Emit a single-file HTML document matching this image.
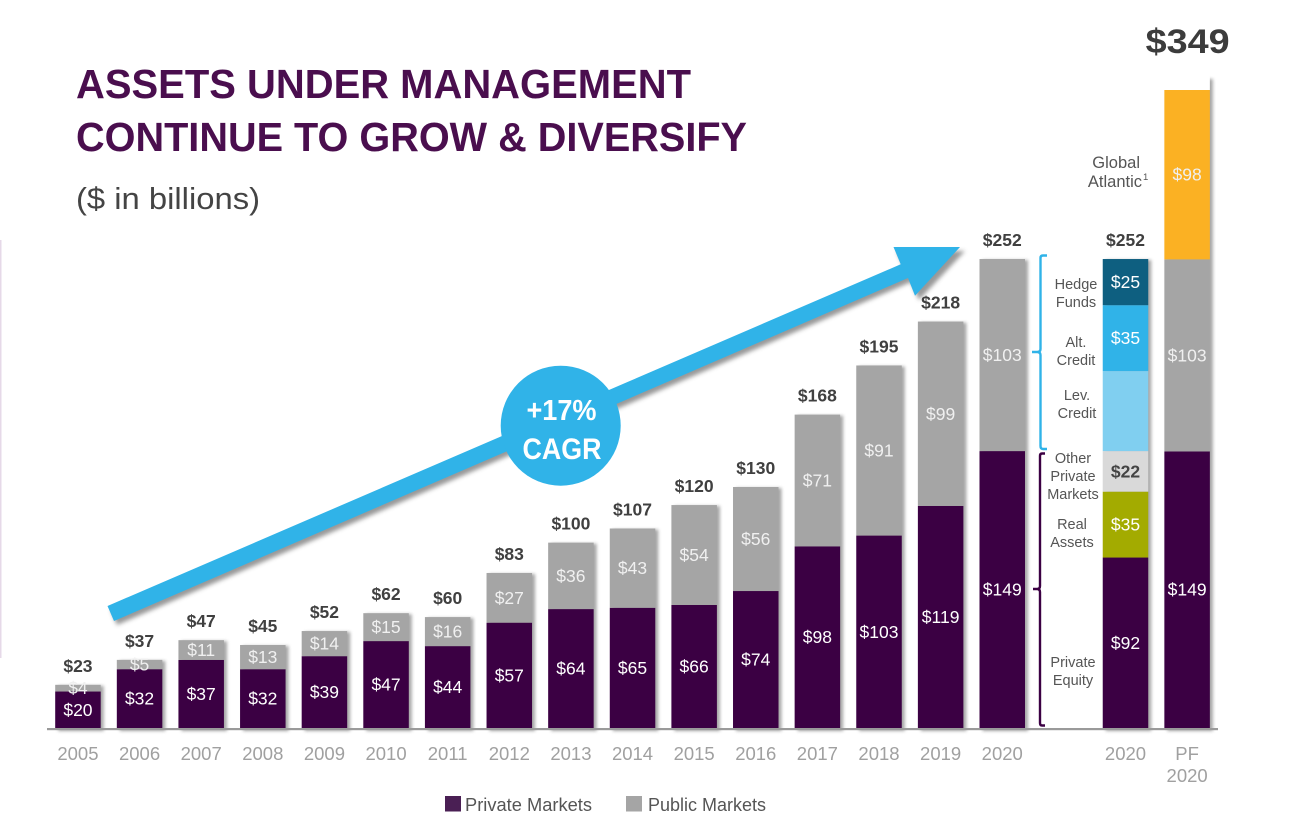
<!DOCTYPE html>
<html lang="en">
<head>
<meta charset="utf-8">
<title>Assets Under Management</title>
<style>
html,body{margin:0;padding:0;background:#fff;width:1298px;height:823px;overflow:hidden}
svg{display:block;font-family:"Liberation Sans",sans-serif}
</style>
</head>
<body>
<svg id="chart" width="1298" height="823" viewBox="0 0 1298 823" xmlns="http://www.w3.org/2000/svg">
<defs>
<filter id="blur" x="-30%" y="-10%" width="160%" height="120%"><feGaussianBlur stdDeviation="1.6"/></filter>
<filter id="arrowBlur" x="-5%" y="-10%" width="110%" height="120%"><feGaussianBlur stdDeviation="2.2"/></filter>
</defs>
<rect width="1298" height="823" fill="#fff"/>
<rect x="0" y="240" width="1.5" height="418" fill="#e6d9e8"/>
<text x="76" y="98" font-size="41" font-weight="bold" fill="#4a0e4e" textLength="615" lengthAdjust="spacingAndGlyphs">ASSETS UNDER MANAGEMENT</text>
<text x="76" y="151" font-size="41" font-weight="bold" fill="#4a0e4e" textLength="671" lengthAdjust="spacingAndGlyphs">CONTINUE TO GROW &amp; DIVERSIFY</text>
<text x="76" y="209" font-size="31" fill="#444" textLength="184" lengthAdjust="spacingAndGlyphs">($ in billions)</text>
<g id="bars"></g>
<rect x="47" y="728" width="1171" height="2.2" fill="#9a9a9a"/>
<g>
<polygon filter="url(#arrowBlur)" fill="#555" opacity=".6" points="111,610 117,625 911,282 919,300 965,251 897,251 904,268"/>
<polygon fill="#30b3e8" points="107.5,606 114,621 908,278 915,295.7 960,247 893.5,247 900.7,264.3"/>
</g>
<circle cx="560.7" cy="425.7" r="60" fill="#30b3e8"/>
<text x="561.5" y="420" font-size="29" font-weight="bold" fill="#fff" text-anchor="middle" textLength="70" lengthAdjust="spacingAndGlyphs">+17%</text>
<text x="562" y="459" font-size="30" font-weight="bold" fill="#fff" text-anchor="middle" textLength="79" lengthAdjust="spacingAndGlyphs">CAGR</text>
<path d="M1047 255.5 H1043 Q1040.5 255.5 1040.5 258 V349 Q1040.5 352 1037 352 H1032 H1037 Q1040.5 352 1040.5 355 V446 Q1040.5 449 1043 449 H1047" fill="none" stroke="#30b3e8" stroke-width="2.4"/>
<path d="M1045 453.5 H1042 Q1040 453.5 1040 456 V586 Q1040 589 1037 589 H1033 H1037 Q1040 589 1040 592 V723 Q1040 725.5 1042 725.5 H1045" fill="none" stroke="#3b0043" stroke-width="2.4"/>
<g font-size="14.5" fill="#555" text-anchor="middle">
<text x="1076" y="289">Hedge</text>
<text x="1076" y="307">Funds</text>
<text x="1076" y="347">Alt.</text>
<text x="1076" y="365">Credit</text>
<text x="1077" y="400">Lev.</text>
<text x="1077" y="418">Credit</text>
<text x="1073" y="463">Other</text>
<text x="1073" y="481">Private</text>
<text x="1073" y="499">Markets</text>
<text x="1072" y="529">Real</text>
<text x="1072" y="547">Assets</text>
<text x="1073" y="667">Private</text>
<text x="1073" y="685">Equity</text>
</g>
<g font-size="16.5" fill="#555">
<text x="1140" y="168" text-anchor="end">Global</text>
<text x="1142" y="187" text-anchor="end">Atlantic</text>
<text x="1143" y="180" font-size="9.5">1</text>
</g>
<g font-size="18" fill="#555">
<rect x="445" y="796" width="16" height="15.5" fill="#4a1f54"/>
<text x="465" y="811" textLength="127" lengthAdjust="spacingAndGlyphs">Private Markets</text>
<rect x="626" y="796" width="16" height="15.5" fill="#a5a5a5"/>
<text x="648" y="811" textLength="118" lengthAdjust="spacingAndGlyphs">Public Markets</text>
</g>
</svg>
<script>
const years = ["2005","2006","2007","2008","2009","2010","2011","2012","2013","2014","2015","2016","2017","2018","2019","2020"];
const privateValues = [19.6,31.6,36.6,31.6,38.6,46.7,44,56.6,63.9,64.6,66.1,73.6,97.6,103.4,119.3,148.8];
const publicValues = [3.6,5,10.6,13,13.5,15,15.6,26.7,35.7,42.6,53.7,55.9,70.8,91.4,99.1,103.2];
const allocationNames = ["private-equity","real-assets","other-private","lev-credit","alt-credit","hedge-funds"];
const allocationValues = [91.6,35.4,21.8,43,35.4,24.8];
const allocationLabelled = [true,true,true,false,true,true];
const pfNames = ["private-markets","public-markets","global-atlantic"];
const pfValues = [148.6,103.2,97.5];

const svg = document.getElementById('chart');
const layer = document.getElementById('bars');
const NS = 'http://www.w3.org/2000/svg';
const baseline = 728, pxPerUnit = 1.861, barWidth = 45.5, clipTop = 90;
const COLORS = {
  'private':'#3b0043','public':'#a5a5a5','private-equity':'#3b0043','real-assets':'#a3ab00',
  'other-private':'#d9d9d9','lev-credit':'#80cff0','alt-credit':'#30b3e8','hedge-funds':'#0e5f80',
  'private-markets':'#3b0043','public-markets':'#a5a5a5','global-atlantic':'#fbb123'
};
const xScale = i => 55.2 + i * 61.62;
const yScale = v => baseline - v * pxPerUnit;
const money = v => '$' + Math.round(v);

function mk(tag, attrs, name, text, parent) {
  const el = document.createElementNS(NS, tag);
  for (const k in attrs) el.setAttribute(k, attrs[k]);
  
  
  if (text !== undefined) el.textContent = text;
  (parent || layer).appendChild(el);
  return el;
}

function drawStack(slot, id, keys, values, labelled) {
  const x = xScale(slot);
  const total = values.reduce((a, b) => a + b, 0);
  const top = yScale(total);
  mk('rect', {x: x + 3, y: top + 1, width: barWidth, height: baseline - top + 2, fill: '#777', opacity: .65, filter: 'url(#blur)'}, 'bar-shadow-' + id);
  if (top < clipTop) {
    mk('rect', {x: x - 3, y: top - 6, width: barWidth + 3, height: clipTop - top + 6, fill: '#fff'}, 'bar-top-mask-' + id);
  }
  let acc = 0;
  const labels = [];
  values.forEach((v, i) => {
    const y0 = yScale(acc);
    acc += v;
    const y1 = Math.max(yScale(acc), clipTop);
    mk('rect', {x: x, y: y1, width: barWidth, height: y0 - y1, fill: COLORS[keys[i]]}, 'bar-' + id + '-' + keys[i]);
    if (labelled[i]) labels.push([v, (y0 + y1) / 2, keys[i]]);
  });
  labels.forEach(l => {
    mk('text', {
      x: x + barWidth / 2, y: l[1] + 6, 'font-size': 17.5, 'text-anchor': 'middle',
      fill: l[2] === 'other-private' ? '#444' : (l[2] === 'public' || l[2] === 'public-markets' || l[2] === 'global-atlantic' ? '#f0f0f0' : '#fff'),
      'font-weight': l[2] === 'other-private' ? 'bold' : 'normal'
    }, 'value-label-' + id + '-' + l[2], money(l[0]));
  });
  return {x: x + barWidth / 2, top: top, total: total};
}

years.forEach((yr, i) => {
  const s = drawStack(i, yr, ['private','public'], [privateValues[i], publicValues[i]], [true,true]);
  mk('text', {x: s.x, y: s.top - 13, 'font-size': 17.5, 'font-weight': 'bold', fill: '#404040', 'text-anchor': 'middle'}, 'total-label-' + yr, money(s.total));
  mk('text', {x: s.x, y: 760, 'font-size': 18.5, fill: '#a0a0a0', 'text-anchor': 'middle'}, 'year-label-' + yr, yr);
});

const alloc = drawStack(17, 'allocation-2020', allocationNames, allocationValues, allocationLabelled);
mk('text', {x: alloc.x, y: alloc.top - 13, 'font-size': 17.5, 'font-weight': 'bold', fill: '#404040', 'text-anchor': 'middle'}, 'total-label-allocation', money(alloc.total));
mk('text', {x: alloc.x, y: 760, 'font-size': 18.5, fill: '#a0a0a0', 'text-anchor': 'middle'}, 'year-label-allocation', '2020');

const pf = drawStack(18, 'pf-2020', pfNames, pfValues, [true,true,true]);
mk('text', {x: pf.x + 0.5, y: pf.top - 25, 'font-size': 34, 'font-weight': 'bold', fill: '#3c3c3c', 'text-anchor': 'middle', textLength: 84, lengthAdjust: 'spacingAndGlyphs'}, 'total-label-pf', money(pf.total));
mk('text', {x: pf.x, y: 760, 'font-size': 18.5, fill: '#a0a0a0', 'text-anchor': 'middle'}, 'pf-label', 'PF');
mk('text', {x: pf.x, y: 782, 'font-size': 18.5, fill: '#a0a0a0', 'text-anchor': 'middle'}, 'pf-year-label', '2020');
</script>
</body>
</html>
